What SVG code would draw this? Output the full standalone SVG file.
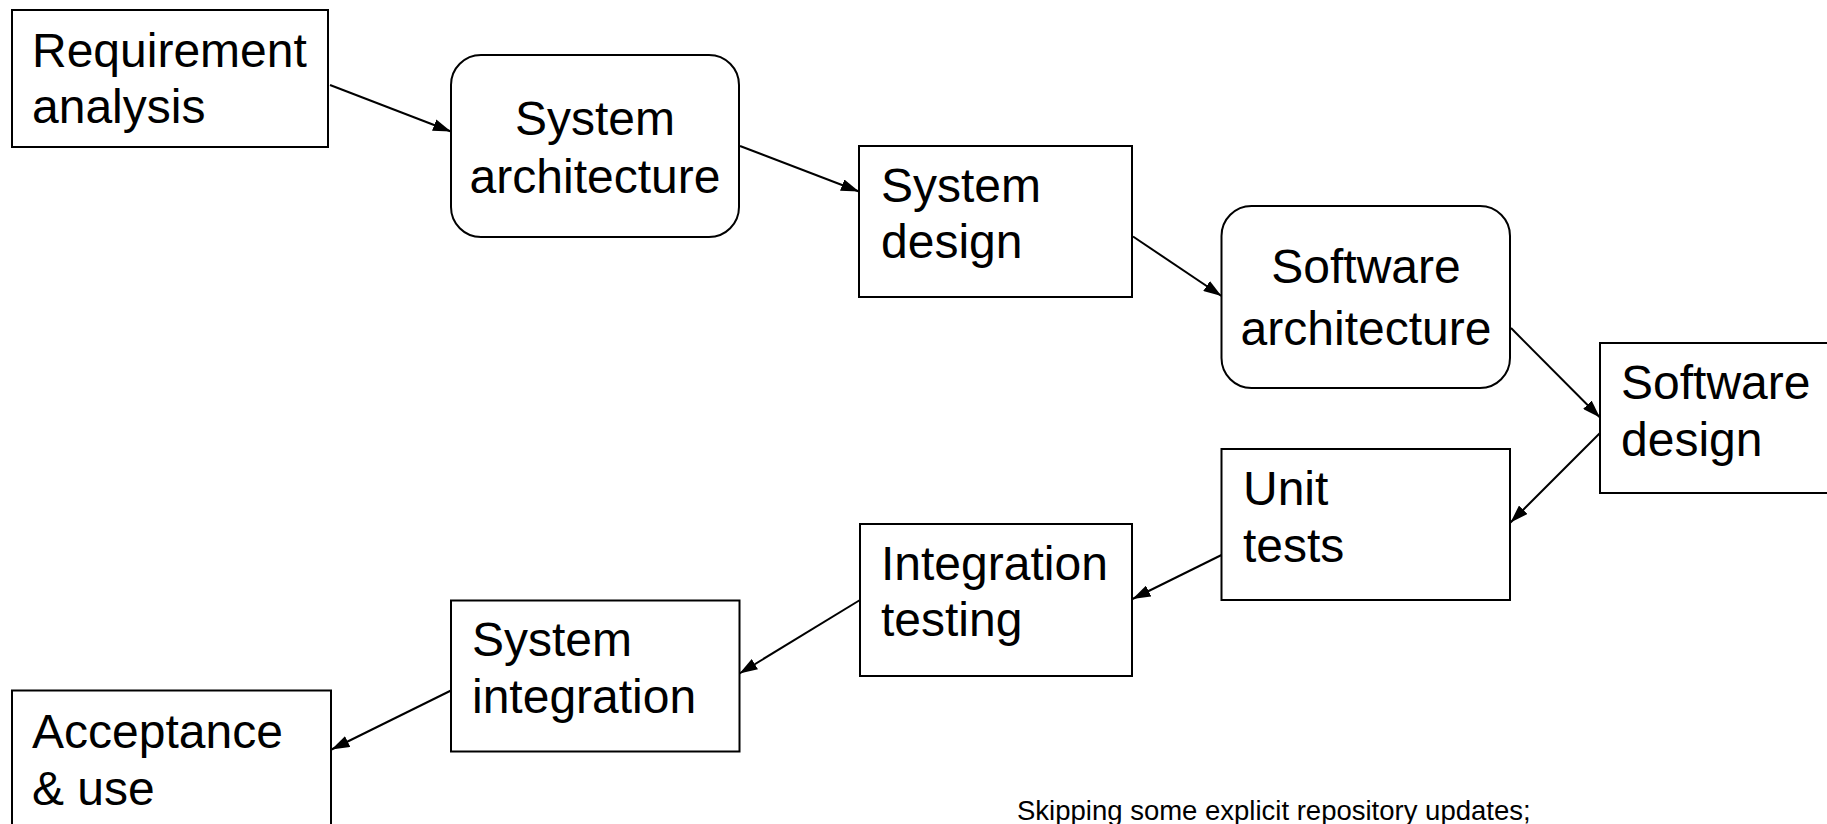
<svg xmlns="http://www.w3.org/2000/svg" width="1827" height="824" viewBox="0 0 1827 824">
  <style>
    .box { fill: #ffffff; stroke: #000000; stroke-width: 2; }
    .lbl { font-family: "Liberation Sans", Arial, sans-serif; font-size: 48px; fill: #000000; }
    .mid { text-anchor: middle; }
    .edge { fill: none; stroke: #000000; stroke-width: 2; marker-end: url(#head); }
    .note { font-family: "Liberation Sans", Arial, sans-serif; font-size: 27.5px; fill: #000000; }
  </style>
  <defs>
    <marker id="head" markerUnits="userSpaceOnUse" markerWidth="18" markerHeight="12" refX="18" refY="6" orient="auto">
      <path d="M0,0 L18,6 L0,12 Z" fill="#000000"/>
    </marker>
  </defs>
  <rect width="1827" height="824" fill="#ffffff"/>

  <g id="requirement-analysis">
    <rect class="box" x="12" y="10" width="316" height="137"/>
    <text class="lbl" x="32" y="67">Requirement</text>
    <text class="lbl" x="32" y="123">analysis</text>
  </g>

  <g id="system-architecture">
    <rect class="box" x="451" y="55" width="288" height="182" rx="30" ry="30"/>
    <text class="lbl mid" x="595" y="135">System</text>
    <text class="lbl mid" x="595" y="193">architecture</text>
  </g>

  <g id="system-design">
    <rect class="box" x="859" y="146" width="273" height="151"/>
    <text class="lbl" x="881" y="202">System</text>
    <text class="lbl" x="881" y="258">design</text>
  </g>

  <g id="software-architecture">
    <rect class="box" x="1221.5" y="206" width="288.5" height="182" rx="30" ry="30"/>
    <text class="lbl mid" x="1366" y="283">Software</text>
    <text class="lbl mid" x="1366" y="345">architecture</text>
  </g>

  <g id="software-design">
    <rect class="box" x="1600" y="343" width="240" height="150"/>
    <text class="lbl" x="1621" y="399">Software</text>
    <text class="lbl" x="1621" y="456">design</text>
  </g>

  <g id="unit-tests">
    <rect class="box" x="1221.5" y="449" width="288.5" height="151"/>
    <text class="lbl" x="1243" y="505">Unit</text>
    <text class="lbl" x="1243" y="562">tests</text>
  </g>

  <g id="integration-testing">
    <rect class="box" x="860" y="524" width="272" height="152"/>
    <text class="lbl" x="881" y="580">Integration</text>
    <text class="lbl" x="881" y="636">testing</text>
  </g>

  <g id="system-integration">
    <rect class="box" x="451" y="600.5" width="288.5" height="151"/>
    <text class="lbl" x="472" y="656">System</text>
    <text class="lbl" x="472" y="713">integration</text>
  </g>

  <g id="acceptance-use">
    <rect class="box" x="12" y="690.5" width="319" height="160"/>
    <text class="lbl" x="32" y="748">Acceptance</text>
    <text class="lbl" x="32" y="805">&amp; use</text>
  </g>

  <g id="connectors">
    <line class="edge" x1="330" y1="85" x2="451" y2="131.5"/>
    <line class="edge" x1="740" y1="146" x2="859" y2="191.5"/>
    <line class="edge" x1="1133" y1="236.5" x2="1221.5" y2="296"/>
    <line class="edge" x1="1511" y1="328" x2="1600" y2="417.5"/>
    <line class="edge" x1="1600" y1="433" x2="1510.5" y2="522.5"/>
    <line class="edge" x1="1221.5" y1="555" x2="1132.5" y2="599"/>
    <line class="edge" x1="860" y1="600" x2="739.5" y2="673.5"/>
    <line class="edge" x1="451" y1="690.5" x2="331.5" y2="749.5"/>
  </g>

  <text class="note" x="1017" y="820">Skipping some explicit repository updates;</text>
</svg>
